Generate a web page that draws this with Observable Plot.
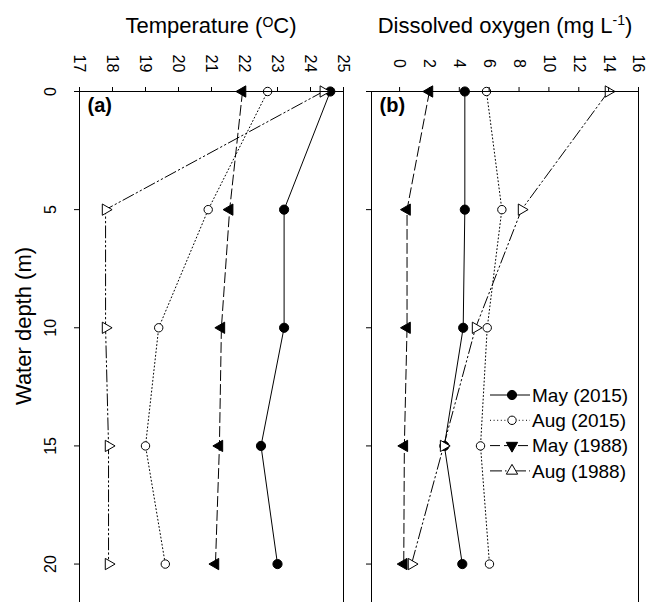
<!DOCTYPE html>
<html><head><meta charset="utf-8">
<script src="https://cdn.jsdelivr.net/npm/d3@7"></script>
<script src="https://cdn.jsdelivr.net/npm/@observablehq/plot@0.6"></script>
<style>
html,body{margin:0;padding:0;background:#fff;overflow:hidden}
#wrap{position:relative;width:649px;height:602px;overflow:hidden;font-family:"Liberation Sans",Arial,sans-serif}
#wrap > *{position:absolute}
</style></head><body><div id="wrap"></div>
<script>
// ---- data ----
const depth = [0, 5, 10, 15, 20];
const seriesNames = ["May (2015)", "Aug (2015)", "May (1988)", "Aug (1988)"];
const tempMay2015 = [24.6, 23.2, 23.2, 22.5, 23.0];
const tempAug2015 = [22.7, 20.9, 19.4, 19.0, 19.6];
const tempMay1988 = [21.94, 21.55, 21.3, 21.24, 21.12];
const tempAug1988 = [24.39, 17.79, 17.79, 17.88, 17.88];
const doMay2015 = [4.37, 4.37, 4.26, 3.0, 4.2];
const doAug2015 = [5.82, 6.85, 5.87, 5.42, 6.02];
const doMay1988 = [2.0, 0.5, 0.5, 0.32, 0.28];
const doAug1988 = [13.99, 8.17, 5.09, 2.95, 0.8];
const tempTicks = [17, 18, 19, 20, 21, 22, 23, 24, 25];
const oxyTicks = [0, 2, 4, 6, 8, 10, 12, 14, 16];
const depthTicks = [0, 5, 10, 15, 20];

// ---- symbols ----
const triRight = {draw(ctx, size) {
  const h = Math.sqrt(size / (3 * Math.sqrt(3))), s = Math.sqrt(3) * h;
  ctx.moveTo(2 * h, 0); ctx.lineTo(-h, -s); ctx.lineTo(-h, s); ctx.closePath();
}};
const triLeft = {draw(ctx, size) {
  const h = Math.sqrt(size / (3 * Math.sqrt(3))), s = Math.sqrt(3) * h;
  ctx.moveTo(-2 * h, 0); ctx.lineTo(h, -s); ctx.lineTo(h, s); ctx.closePath();
}};
const triDown = {draw(ctx, size) {
  const h = Math.sqrt(size / (3 * Math.sqrt(3))), s = Math.sqrt(3) * h;
  ctx.moveTo(0, 2 * h); ctx.lineTo(-s, -h); ctx.lineTo(s, -h); ctx.closePath();
}};
const triUp = {draw(ctx, size) {
  const h = Math.sqrt(size / (3 * Math.sqrt(3))), s = Math.sqrt(3) * h;
  ctx.moveTo(0, -2 * h); ctx.lineTo(-s, h); ctx.lineTo(s, h); ctx.closePath();
}};

const styles = [
  {symbol: "circle", legendSymbol: "circle", fill: "black", dash: null, r: 4.6},
  {symbol: "circle", legendSymbol: "circle", fill: "white", dash: "1,2.6", r: 4.2},
  {symbol: triLeft, legendSymbol: triDown, fill: "black", dash: "10,4", r: 4.2},
  {symbol: triRight, legendSymbol: triUp, fill: "white", dash: "12,3,1.5,3,1.5,3", r: 4.2}
];

function rows(valuesList) {
  return valuesList.map((vals, i) => depth.map((d, j) => ({series: seriesNames[i], depth: d, value: vals[j]})));
}

const FONT = "'Liberation Sans', Arial, sans-serif";

function panel({values, ticks, xDomain, width, ml, mr, label, yLabels}) {
  const data = rows(values);
  const marks = [];
  data.forEach((d, i) => {
    const st = styles[i];
    marks.push(Plot.line(d, {x: "value", y: "depth", stroke: "black", strokeWidth: 1, strokeDasharray: st.dash || undefined}));
  });
  data.forEach((d, i) => {
    const st = styles[i];
    marks.push(Plot.dot(d, {x: "value", y: "depth", symbol: st.symbol, r: st.r, fill: st.fill, stroke: "black", strokeWidth: 1}));
  });
  marks.push(Plot.frame({stroke: "black", strokeWidth: 1}));
  marks.push(Plot.axisX(ticks, {anchor: "top", tickSize: 5, tickPadding: 23, tickRotate: 90,
    textAnchor: "middle", lineAnchor: "middle", fontSize: 16, label: null, stroke: "black"}));
  if (yLabels) {
    marks.push(Plot.axisY(depthTicks, {anchor: "left", tickSize: 5, tickPadding: 24, tickRotate: -90,
      textAnchor: "middle", lineAnchor: "middle", fontSize: 16, label: null, stroke: "black"}));
  } else {
    marks.push(Plot.axisY(depthTicks, {anchor: "left", tickSize: 5, tickFormat: () => "", label: null, stroke: "black"}));
  }
  marks.push(Plot.text([label], {frameAnchor: "top-left", dx: 8, dy: 6, text: d => d,
    fontWeight: "bold", fontSize: 20, textAnchor: "start", lineAnchor: "top", fill: "black"}));
  return Plot.plot({
    width, height: 612,
    marginLeft: ml, marginRight: mr, marginTop: 91, marginBottom: 0,
    x: {domain: xDomain},
    y: {domain: [0, 22.05], reverse: true},
    style: {fontFamily: FONT, background: "transparent", color: "black", overflow: "visible"},
    marks
  });
}

const wrap = document.getElementById("wrap");

const pa = panel({values: [tempMay2015, tempAug2015, tempMay1988, tempAug1988], ticks: tempTicks,
  xDomain: [17, 25], width: 350, ml: 79, mr: 7, label: "(a)", yLabels: true});
pa.style.left = "0px"; pa.style.top = "0px";
wrap.appendChild(pa);

const pb = panel({values: [doMay2015, doAug2015, doMay1988, doAug1988], ticks: oxyTicks,
  xDomain: [-1.88, 16], width: 299, ml: 21, mr: 11, label: "(b)", yLabels: false});
pb.style.left = "350px"; pb.style.top = "0px";
wrap.appendChild(pb);

// ---- legend ----
const leg = d3.create("svg").attr("width", 164).attr("height", 105)
  .style("left", "485px").style("top", "380px").style("font-family", FONT);
seriesNames.forEach((name, i) => {
  const st = styles[i];
  const y = 15 + i * 25.3;
  const g = leg.append("g").attr("transform", `translate(0,${y})`);
  g.append("line").attr("x1", 5).attr("x2", 45).attr("y1", 0).attr("y2", 0)
    .attr("stroke", "black").attr("stroke-width", 1).attr("stroke-dasharray", st.dash);
  if (st.legendSymbol === "circle") {
    g.append("circle").attr("cx", 27).attr("cy", 0).attr("r", st.r).attr("fill", st.fill).attr("stroke", "black");
  } else {
    g.append("path").attr("transform", "translate(27,0)")
      .attr("d", d3.symbol(st.legendSymbol, Math.PI * st.r * st.r)())
      .attr("fill", st.fill).attr("stroke", "black");
  }
  g.append("text").attr("x", 47).attr("y", 0).attr("dy", "0.35em").attr("font-size", 19).text(name);
});
wrap.appendChild(leg.node());

// ---- titles ----
const ov = d3.create("svg").attr("width", 649).attr("height", 602)
  .style("left", "0px").style("top", "0px").style("pointer-events", "none").style("font-family", FONT);
const t1 = ov.append("text").attr("x", 211).attr("y", 33).attr("text-anchor", "middle").attr("font-size", 22);
t1.append("tspan").text("Temperature (");
t1.append("tspan").attr("font-size", 14).attr("dy", -6).text("O");
t1.append("tspan").attr("dy", 6).text("C)");
const t2 = ov.append("text").attr("x", 505).attr("y", 33).attr("text-anchor", "middle").attr("font-size", 22);
t2.append("tspan").text("Dissolved oxygen (mg L");
t2.append("tspan").attr("font-size", 14).attr("dy", -8).text("-1");
t2.append("tspan").attr("dy", 8).text(")");
ov.append("text").attr("transform", "translate(31,326) rotate(-90)").attr("text-anchor", "middle")
  .attr("font-size", 22).text("Water depth (m)");
wrap.appendChild(ov.node());
</script></body></html>
